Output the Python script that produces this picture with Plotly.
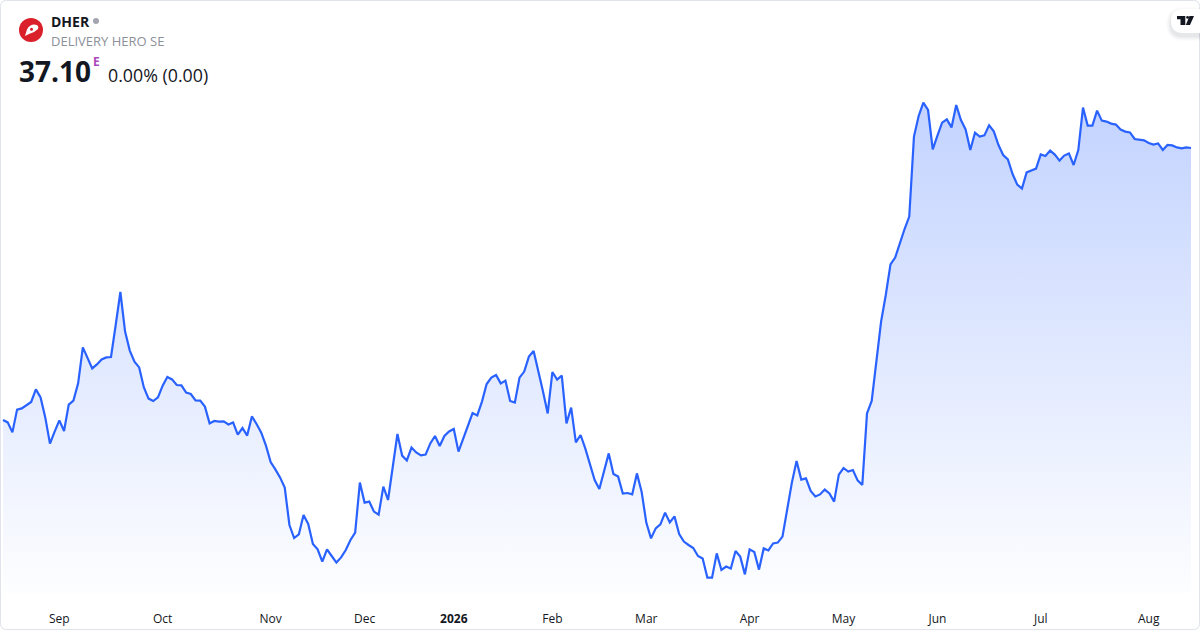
import pandas as pd
import plotly.graph_objects as go

# Closing prices, one per trading day
closes = [
    23.50, 23.38, 22.88, 24.02, 24.08, 24.23, 24.40, 25.03, 24.63, 23.63,
    22.32, 22.92, 23.48, 22.95, 24.27, 24.47, 25.33, 27.13, 26.63, 26.08,
    26.28, 26.53, 26.63, 26.65, 28.25, 29.90, 27.92, 26.97, 26.42, 26.13,
    25.13, 24.57, 24.45, 24.63, 25.22, 25.65, 25.53, 25.25, 25.23, 24.87,
    24.80, 24.48, 24.47, 24.17, 23.33, 23.45, 23.42, 23.43, 23.28, 23.38,
    22.77, 23.10, 22.72, 23.68, 23.30, 22.87, 22.22, 21.40, 21.03, 20.63,
    20.12, 18.25, 17.60, 17.78, 18.75, 18.30, 17.30, 17.03, 16.42, 17.03,
    16.70, 16.37, 16.63, 17.00, 17.50, 17.87, 20.37, 19.37, 19.42, 18.92,
    18.77, 20.17, 19.50, 21.08, 22.80, 21.72, 21.48, 22.12, 21.88, 21.73,
    21.77, 22.33, 22.70, 22.20, 22.70, 22.93, 23.05, 21.92, 22.58, 23.17,
    23.85, 23.73, 24.42, 25.30, 25.62, 25.75, 25.33, 25.47, 24.45, 24.37,
    25.62, 25.92, 26.67, 26.95, 26.00, 24.92, 23.83, 25.90, 25.52, 25.72,
    23.33, 24.12, 22.38, 22.75, 22.08, 21.33, 20.50, 20.05, 20.88, 21.83,
    20.80, 20.67, 19.82, 19.85, 19.78, 20.83, 19.92, 18.37, 17.58, 18.08,
    18.28, 18.87, 18.38, 18.68, 17.80, 17.42, 17.25, 17.10, 16.70, 16.58,
    15.62, 15.62, 16.83, 16.00, 16.17, 16.07, 16.95, 16.67, 15.78, 17.03,
    16.90, 16.02, 17.08, 16.98, 17.33, 17.37, 17.67, 19.00, 20.37, 21.45,
    20.52, 20.58, 19.95, 19.68, 19.78, 20.02, 19.83, 19.42, 20.77, 21.10,
    20.92, 21.00, 20.48, 20.25, 23.83, 24.45, 26.33, 28.42, 29.75, 31.28,
    31.62, 32.37, 33.05, 33.67, 37.67, 38.70, 39.37, 39.00, 37.03, 37.72,
    38.37, 38.53, 38.13, 39.25, 38.50, 38.03, 37.00, 37.87, 37.67, 37.73,
    38.23, 37.93, 37.25, 36.75, 36.53, 35.80, 35.27, 35.07, 35.88, 35.98,
    36.07, 36.78, 36.70, 36.97, 36.77, 36.47, 36.72, 36.83, 36.25, 37.00,
    39.12, 38.22, 38.22, 38.97, 38.47, 38.42, 38.32, 38.27, 38.02, 37.92,
    37.88, 37.55, 37.53, 37.48, 37.35, 37.27, 37.33, 37.00, 37.25, 37.23,
    37.13, 37.08, 37.13, 37.10,
]
holidays = ["2025-12-24", "2025-12-25", "2025-12-26", "2025-12-31", "2026-01-01",
            "2026-04-03", "2026-04-06", "2026-05-01"]
tick_dates = ["2025-09-01", "2025-10-01", "2025-11-03", "2025-12-01", "2026-01-02", "2026-02-02",
              "2026-03-02", "2026-04-01", "2026-05-04", "2026-06-01", "2026-07-01", "2026-08-03"]
tick_labels = ["Sep", "Oct", "Nov", "Dec", "<b>2026</b>", "Feb", "Mar", "Apr", "May", "Jun", "Jul", "Aug"]

symbol = "DHER"
company = "DELIVERY HERO SE"
last_price = "37.10"
change_text = "0.00% (0.00)"

W, H = 1200, 630
PLOT_H = 593
FONT = "Open Sans"
TEXT = "#131722"

days = pd.bdate_range("2025-08-14", "2026-08-14")
days = [d.strftime("%Y-%m-%d") for d in days if d.strftime("%Y-%m-%d") not in holidays]


def px(x):
    return x / W


def py(y):
    return 1 - y / PLOT_H


def paper_path(points):
    # points are (command, x, y, ...) in page pixels, turned into paper coordinates
    out = []
    for p in points:
        nums = p[1:]
        coords = [f"{px(nums[i]):.5f},{py(nums[i + 1]):.5f}" for i in range(0, len(nums), 2)]
        out.append(p[0] + " ".join(coords))
    return " ".join(out) + " Z"


def rounded(x0, y0, x1, y1, r):
    return paper_path([
        ("M", x0 + r, y0), ("L", x1 - r, y0), ("Q", x1, y0, x1, y0 + r),
        ("L", x1, y1 - r), ("Q", x1, y1, x1 - r, y1), ("L", x0 + r, y1),
        ("Q", x0, y1, x0, y1 - r), ("L", x0, y0 + r), ("Q", x0, y0, x0 + r, y0),
    ])


def label(x, y, text, size, color=TEXT):
    fig.add_annotation(x=px(x), y=py(y), xref="paper", yref="paper", text=text, showarrow=False,
                       xanchor="left", yanchor="middle", borderpad=0,
                       font=dict(family=FONT, size=size, color=color))


fig = go.Figure()
fig.add_trace(go.Scatter(
    x=days,
    y=closes,
    mode="lines",
    line=dict(color="#2962FF", width=2.2),
    fill="tozeroy",
    fillcolor="rgba(41,98,255,0.15)",
    fillgradient=dict(
        type="vertical",
        start=14.85,
        stop=39.4,
        colorscale=[[0, "rgba(41,98,255,0.01)"], [1, "rgba(41,98,255,0.28)"]],
    ),
    hoverinfo="skip",
    showlegend=False,
))

# left, right and top of the axes sit so the first point lands at x=3 and the last at x=1191
step = (1191 - 3) / (len(closes) - 1)
fig.update_layout(
    width=W,
    height=H,
    margin=dict(l=0, r=0, t=0, b=H - PLOT_H),
    paper_bgcolor="white",
    plot_bgcolor="white",
    font=dict(family=FONT, color=TEXT, size=12),
    xaxis=dict(
        type="category",
        categoryorder="array",
        categoryarray=days,
        range=[-3 / step, len(closes) - 1 + 9 / step],
        tickmode="array",
        tickvals=tick_dates,
        ticktext=tick_labels,
        tickangle=0,
        showgrid=False,
        zeroline=False,
        showline=False,
        ticks="",
        ticklabelstandoff=17,
        tickfont=dict(family=FONT, size=12, color=TEXT),
    ),
    yaxis=dict(range=[14.85, 44.5], visible=False),
)

# card border
fig.add_shape(type="path", path=rounded(0.5, 0.5, 1199.5, 629.5, 6), xref="paper", yref="paper",
              line=dict(color="#e0e3eb", width=1), layer="above")

# logo
fig.add_shape(type="circle", xref="paper", yref="paper", x0=px(19), x1=px(43), y0=py(42), y1=py(18),
              fillcolor="#d9202b", line_width=0, layer="above")
fig.add_shape(type="path", xref="paper", yref="paper", fillcolor="white", line_width=0, layer="above",
              path=paper_path([("M", 25, 36), ("L", 27, 29.5), ("Q", 29.5, 24.5, 34.5, 24.5),
                               ("Q", 39.5, 25, 38, 29), ("Q", 34, 33, 29, 34)]))
fig.add_shape(type="circle", xref="paper", yref="paper", x0=px(30), x1=px(33), y0=py(30.8), y1=py(27.8),
              fillcolor="#d9202b", line_width=0, layer="above")
# market status dot
fig.add_shape(type="circle", xref="paper", yref="paper", x0=px(93), x1=px(99), y0=py(24), y1=py(18),
              fillcolor="#a3a6af", line_width=0, layer="above")

label(50, 21, f"<b>{symbol}</b>", 14)
label(50, 41, company, 13, "#8c9099")
label(18, 71, f"<b>{last_price}</b>", 28)
label(92, 61.5, "<b>E</b>", 12, "#ab47bc")
label(107, 75, change_text, 17.8)

# TradingView badge with a soft shadow, dropped a little below the pill
for grow, alpha in [(5, 0.012), (4, 0.016), (3, 0.02), (2, 0.025), (1, 0.03)]:
    fig.add_shape(type="path", path=rounded(1171 - grow, 9 - grow + 3, 1212, 33 + grow + 3, 12 + grow),
                  xref="paper", yref="paper", fillcolor=f"rgba(19,23,34,{alpha})", line_width=0, layer="above")
fig.add_shape(type="path", path=rounded(1171, 9, 1212, 33, 12), xref="paper", yref="paper",
              fillcolor="white", line_width=0, layer="above")
fig.add_shape(type="path", xref="paper", yref="paper", fillcolor="#131722", line_width=0, layer="above",
              path=paper_path([("M", 1177, 16), ("L", 1185.3, 16), ("L", 1185.3, 25), ("L", 1180.5, 25),
                               ("L", 1180.5, 19.2), ("L", 1177, 19.2)]))
fig.add_shape(type="path", xref="paper", yref="paper", fillcolor="#131722", line_width=0, layer="above",
              path=paper_path([("M", 1189.5, 16), ("L", 1194, 16), ("L", 1190, 25), ("L", 1185.8, 25)]))
fig.add_shape(type="circle", xref="paper", yref="paper", x0=px(1186.2), x1=px(1189), y0=py(18.8), y1=py(16),
              fillcolor="#131722", line_width=0, layer="above")

fig.write_html("out.html", config=dict(displayModeBar=False),
               post_script="document.body.style.margin='0';document.body.style.overflow='hidden';")
